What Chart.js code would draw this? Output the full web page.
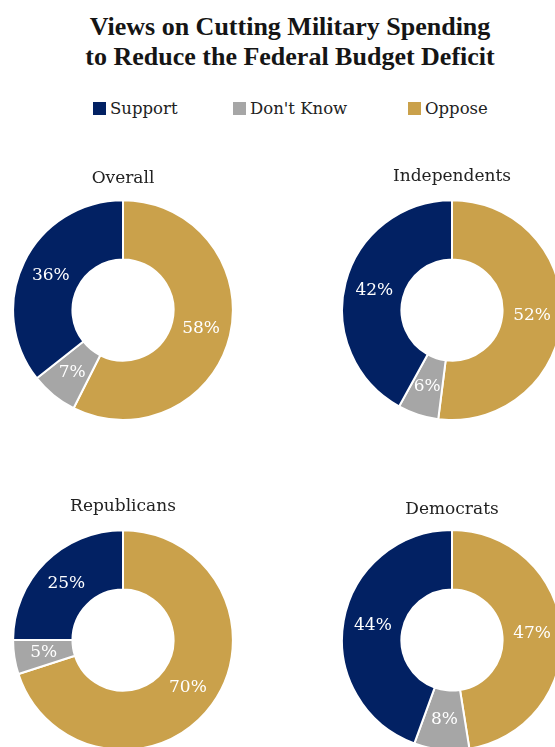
<!DOCTYPE html>
<html>
<head>
<meta charset="utf-8">
<script src="https://cdn.jsdelivr.net/npm/chart.js@4.4.1/dist/chart.umd.min.js"></script>
<style>
  html, body { margin:0; padding:0; background:#fff; }
  body { width:555px; height:747px; overflow:hidden; position:relative; }
  #title { position:absolute; left:0; top:12px; width:580px; text-align:center;
           font-family:"Liberation Serif", serif; font-weight:bold; font-size:26px;
           line-height:30px; color:#151515; }
  .leg { position:absolute; top:99px; height:20px; line-height:20px; white-space:nowrap;
         font-family:"DejaVu Serif", serif; font-size:16.5px; color:#222; }
  .leg .sw { display:inline-block; width:13px; height:13px; margin-right:4px; vertical-align:-1px; }
  .cw { position:absolute; }
</style>
</head>
<body>
<div id="title">Views on Cutting Military Spending<br>to Reduce the Federal Budget Deficit</div>
<div id="legend"></div>

<script>
// ---- data ----
const categories = ['Support', "Don't Know", 'Oppose'];
const groups = ['Overall', 'Independents', 'Republicans', 'Democrats'];
const supportValues  = [36, 42, 25, 44];
const dontKnowValues = [7, 6, 5, 8];
const opposeValues   = [58, 52, 70, 47];

// ---- styles / layout ----
const colors = { 'Support': '#022163', "Don't Know": '#A6A6A6', 'Oppose': '#CAA14B' };
const legendLeft = [93, 233, 408];
const layout = [
  { left: 12,  top: 168, padTop: 0,   padBottom: 10.8 },
  { left: 341, top: 166, padTop: 0,   padBottom: 12.8 },
  { left: 12,  top: 496, padTop: 0,   padBottom: 12.8 },
  { left: 341, top: 499, padTop: 0.3, padBottom: 9.3 }
];
const SIZE = 222;

// legend
const legEl = document.getElementById('legend');
categories.forEach((c, i) => {
  const d = document.createElement('div');
  d.className = 'leg';
  d.style.left = legendLeft[i] + 'px';
  d.innerHTML = '<span class="sw" style="background:' + colors[c] + '"></span>' + c.replace("'", '&#39;');
  legEl.appendChild(d);
});

const sliceLabels = {
  id: 'sliceLabels',
  afterDatasetsDraw(chart) {
    const ctx = chart.ctx;
    const meta = chart.getDatasetMeta(0);
    const ds = chart.data.datasets[0];
    ctx.save();
    ctx.fillStyle = '#ffffff';
    ctx.font = '17px "DejaVu Serif", serif';
    ctx.textAlign = 'center';
    ctx.textBaseline = 'middle';
    meta.data.forEach((arc, i) => {
      const p = arc.tooltipPosition();
      ctx.fillText(ds.data[i] + '%', p.x, p.y);
    });
    ctx.restore();
  }
};

groups.forEach((g, i) => {
  const L = layout[i];
  const wrap = document.createElement('div');
  wrap.className = 'cw';
  wrap.style.left = L.left + 'px';
  wrap.style.top = L.top + 'px';
  const cv = document.createElement('canvas');
  const titleH = 17 * 1.2 + L.padTop + L.padBottom;
  cv.width = SIZE;
  cv.height = Math.round(SIZE + titleH);
  cv.style.width = SIZE + 'px';
  cv.style.height = Math.round(SIZE + titleH) + 'px';
  wrap.appendChild(cv);
  document.body.appendChild(wrap);

  const order = ['Oppose', "Don't Know", 'Support'];
  const vals = { 'Support': supportValues[i], "Don't Know": dontKnowValues[i], 'Oppose': opposeValues[i] };
  new Chart(cv, {
    type: 'doughnut',
    data: {
      labels: order,
      datasets: [{
        data: order.map(k => vals[k]),
        backgroundColor: order.map(k => colors[k]),
        borderColor: '#ffffff',
        borderWidth: 2
      }]
    },
    options: {
      responsive: false,
      animation: false,
      cutout: '46%',
      layout: { padding: 0 },
      plugins: {
        legend: { display: false },
        tooltip: { enabled: false },
        title: {
          display: true,
          text: g,
          color: '#222',
          font: { family: '"DejaVu Serif", serif', size: 17, weight: 'normal', lineHeight: 1.2 },
          padding: { top: L.padTop, bottom: L.padBottom }
        }
      }
    },
    plugins: [sliceLabels]
  });
});
</script>
</body>
</html>
